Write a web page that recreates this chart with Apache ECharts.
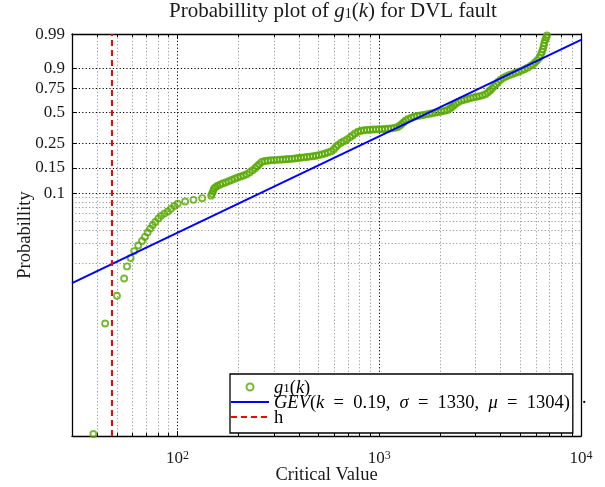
<!DOCTYPE html>
<html><head><meta charset="utf-8">
<script src="https://cdn.jsdelivr.net/npm/echarts@6/dist/echarts.min.js"></script>
<style>html,body{margin:0;padding:0;background:#fff}#c{width:605px;height:487px}</style>
</head><body><div id="c"></div>
<script>
// ---- data ----
const critValues = [38.3,43.8,50.1,54.4,56.2,58.6,61.0,63.9,66.7,69.0,71.1,73.3,75.3,77.6,80.4,82.9,86.1,89.4,92.9,96.5,100.2,109.1,120.0,132.6,146.9,
148.3,150.0,151.7,154.4,158.0,162.6,167.3,173.1,179.2,185.4,191.9,198.6,205.6,212.7,220.2,227.9,235.8,242.7,248.3,254.1,
261.4,270.6,280.0,289.8,300.0,310.4,321.3,332.5,344.2,356.2,368.6,381.5,394.9,408.7,423.0,437.7,453.0,468.9,485.3,502.2,519.8,538.0,556.8,576.2,
596.4,610.2,624.4,646.2,668.8,692.1,716.3,737.1,758.5,785.1,812.5,
840.9,870.3,900.7,932.2,964.8,998.9,1034,1070,1107,1146,1186,1228,1263,1293,1322,1353,1392,1441,1491,1544,1598,1653,1711,1771,1833,1897,1963,2032,2103,2177,2240,2292,2345,2399,2469,2555,2644,2737,2833,2931,3034,3140,3250,3363,3461,3541,3623,3707,3793,3881,3994,4133,4278,4427,4582,4742,4908,5079,5257,5440,5631,5794,5928,6066,6207,6314,6402,6475,6535,6580,6648,6725,6786];
const probabilities = [0.0520,0.0538,0.0556,0.0575,0.0594,0.0611,0.0628,0.0644,0.0659,0.0674,0.0692,0.0710,0.0728,0.0745,0.0766,0.0784,0.0800,0.0816,0.0838,0.0862,0.0884,0.0905,0.0923,0.0942,0.0971,
0.0997,0.1030,0.1067,0.1090,0.1113,0.1131,0.1152,0.1169,0.1192,0.1215,0.1242,0.1266,0.1287,0.1310,0.1339,0.1382,0.1437,0.1492,0.1547,0.1610,
0.1684,0.1716,0.1727,0.1742,0.1749,0.1757,0.1764,0.1772,0.1779,0.1787,0.1794,0.1809,0.1824,0.1835,0.1850,0.1865,0.1880,0.1895,0.1914,0.1940,0.1970,0.2005,0.2048,0.2100,
0.2200,0.2324,0.2431,0.2545,0.2642,0.2756,0.2884,0.3017,0.3162,0.3285,0.3359,
0.3400,0.3424,0.3440,0.3456,0.3464,0.3472,0.3480,0.3496,0.3521,0.3545,0.3585,0.3642,0.3765,0.3923,0.4082,0.4236,0.4378,0.4493,0.4588,0.4664,0.4714,0.4764,0.4825,0.4885,0.4945,0.5005,0.5066,0.5126,0.5187,0.5271,0.5428,0.5584,0.5763,0.5953,0.6132,0.6268,0.6362,0.6446,0.6530,0.6603,0.6676,0.6739,0.6819,0.6939,0.7120,0.7306,0.7494,0.7692,0.7882,0.8071,0.8253,0.8406,0.8520,0.8598,0.8676,0.8748,0.8813,0.8883,0.8965,0.9047,0.9136,0.9216,0.9296,0.9375,0.9463,0.9557,0.9638,0.9704,0.9763,0.9808,0.9846,0.9873,0.9893];
const fitLineX = [30, 10000];
const fitLineP = [0.0569, 0.9848];
const thresholdH = 47;
const yTickProbs = [0.99, 0.9, 0.75, 0.5, 0.25, 0.15, 0.1];
const yMinorProbs = [0.095, 0.09, 0.085, 0.08, 0.075, 0.07, 0.065, 0.06];
const xTickValues = [100, 1000, 10000];
const xMinorValues = [40,50,60,70,80,90,200,300,400,500,600,700,800,900,2000,3000,4000,5000,6000,7000,8000,9000];
const GEV_K = 0.19, GEV_SIGMA = 1330, GEV_MU = 1304;
const X_MIN = 30, X_MAX = 10000;

// probability scale of the plot: log of the fitted GEV quantile
function probToAxis(p) {
  const q = GEV_MU + (GEV_SIGMA / GEV_K) * (Math.pow(-Math.log(p), -GEV_K) - 1);
  return Math.log10(q);
}
const Y_MIN = 0, Y_MAX = 4.05;

const GREEN = '#56a800', BLUE = '#0000ff', RED = '#ff0000';
const FONT = 'Liberation Serif';
const TXT = '#1a1a1a';
const yTickAxis = yTickProbs.map(probToAxis);
const yMinorAxis = yMinorProbs.map(probToAxis);
const scatterData = critValues.map((x, i) => [x, probToAxis(probabilities[i])]);
const fitData = fitLineX.map((x, i) => [x, probToAxis(fitLineP[i])]);

const dotted = [1.2, 2.2];
const EN = '\u2002';
const NO_MARK = {color: 'rgba(0,0,0,0)', borderColor: 'rgba(0,0,0,0)', borderWidth: 0, opacity: 0};
const chart = echarts.init(document.getElementById('c'));
const legendRich = {
  n: {fontFamily: FONT, fontSize: 18.5, lineHeight: 16, verticalAlign: 'top', color: '#000'},
  i: {fontFamily: FONT, fontSize: 18.5, lineHeight: 16, verticalAlign: 'top', fontStyle: 'italic', color: '#000'},
  s: {fontFamily: FONT, fontSize: 13, lineHeight: 10, padding: [7, 0, 0, 0], verticalAlign: 'bottom', color: '#000'}
};
chart.setOption({
  animation: false,
  backgroundColor: '#fff',
  title: {
    text: '{n|Probabillity plot of }{i|g}{s|1}{n|(}{i|k}{n|) for DVL fault}',
    left: 333, top: 1, textAlign: 'center', padding: 0,
    textStyle: {fontWeight: 'normal', rich: {
      n: {fontFamily: FONT, fontSize: 21, fontWeight: 'normal', lineHeight: 20, verticalAlign: 'top', color: TXT},
      i: {fontFamily: FONT, fontSize: 21, fontWeight: 'normal', lineHeight: 20, verticalAlign: 'top', fontStyle: 'italic', color: TXT},
      s: {fontFamily: FONT, fontSize: 14, fontWeight: 'normal', lineHeight: 12, padding: [9, 0, 0, 0], verticalAlign: 'bottom', color: TXT}
    }}
  },
  grid: {left: 72, right: 24, top: 34, bottom: 51, outerBoundsMode: 'none'},
  legend: {
    orient: 'vertical', left: 230, top: 374,
    itemWidth: 38, itemHeight: 7, itemGap: -4,
    padding: [1, 3, 5, 0],
    backgroundColor: '#fff', borderColor: '#000', borderWidth: 1.3,
    data: [
      {name: 'g1(k)', icon: 'circle', itemStyle: {color: 'rgba(0,0,0,0)', borderColor: GREEN, borderWidth: 2}},
      {name: 'GEV(k = 0.19, σ = 1330, μ = 1304)', itemStyle: NO_MARK},
      {name: 'h', itemStyle: NO_MARK}
    ],
    formatter: function (name) {
      if (name === 'g1(k)') return '{i|g}{s|1}{n|(}{i|k}{n|)}';
      if (name === 'h') return '{n|h}';
      return '{i|GEV}{n|(}{i|k}{n|' + EN + '=' + EN + '0.19,' + EN + '}{i|σ}{n|' + EN + '=' + EN + '1330,' + EN + '}{i|μ}{n|' + EN + '=' + EN + '1304)}';
    },
    textStyle: {rich: legendRich}
  },
  graphic: [{type: 'text', left: 582, top: 389, style: {text: '.', font: '18px "Liberation Serif"', fill: '#000'}}],
  xAxis: [
    {type: 'log', logBase: 10, min: X_MIN, max: X_MAX, position: 'bottom',
     name: 'Critical Value', nameLocation: 'middle', nameGap: 30, nameMoveOverlap: false,
     nameTextStyle: {fontFamily: FONT, fontSize: 18.5, color: TXT},
     axisLine: {show: true, onZero: false, lineStyle: {color: '#000', width: 1.3}},
     axisTick: {show: true, inside: true, length: 5, customValues: xTickValues, lineStyle: {color: '#000'}},
     axisLabel: {customValues: xTickValues, margin: 14,
       formatter: v => '{b|10}{p|' + Math.round(Math.log10(v)) + '}',
       rich: {b: {fontFamily: FONT, fontSize: 17, lineHeight: 17, padding: [6, 0, 0, 0], verticalAlign: 'bottom', color: TXT},
              p: {fontFamily: FONT, fontSize: 12, lineHeight: 12, verticalAlign: 'top', color: TXT}}},
     splitLine: {show: true, lineStyle: {color: '#000', width: 1, type: dotted}}},
    {type: 'log', logBase: 10, min: X_MIN, max: X_MAX, position: 'bottom',
     axisLine: {show: false, onZero: false},
     axisTick: {show: true, inside: true, length: 3, customValues: xMinorValues, lineStyle: {color: '#000'}},
     axisLabel: {show: false},
     splitLine: {show: true, lineStyle: {color: '#9a9a9a', width: 1, type: dotted}}},
    {type: 'log', logBase: 10, min: X_MIN, max: X_MAX, position: 'top',
     axisLine: {show: true, onZero: false, lineStyle: {color: '#000', width: 1.3}},
     axisTick: {show: true, inside: true, length: 5, customValues: xTickValues, lineStyle: {color: '#000'}},
     axisLabel: {show: false}, splitLine: {show: false}},
    {type: 'log', logBase: 10, min: X_MIN, max: X_MAX, position: 'top',
     axisLine: {show: false, onZero: false},
     axisTick: {show: true, inside: true, length: 3, customValues: xMinorValues, lineStyle: {color: '#000'}},
     axisLabel: {show: false}, splitLine: {show: false}}
  ],
  yAxis: [
    {type: 'value', min: Y_MIN, max: Y_MAX, position: 'left',
     name: 'Probabillity', nameLocation: 'middle', nameGap: 37, nameRotate: 90, nameMoveOverlap: false,
     nameTextStyle: {fontFamily: FONT, fontSize: 18.5, color: TXT},
     axisLine: {show: true, onZero: false, lineStyle: {color: '#000', width: 1.3}},
     axisTick: {show: true, inside: true, length: 5, customValues: yTickAxis, lineStyle: {color: '#000'}},
     axisLabel: {customValues: yTickAxis, margin: 7, fontFamily: FONT, fontSize: 17, color: TXT,
       formatter: v => { const i = yTickAxis.findIndex(t => Math.abs(t - v) < 1e-6); return i >= 0 ? String(yTickProbs[i]) : ''; }},
     splitLine: {show: true, lineStyle: {color: '#000', width: 1, type: dotted}}},
    {type: 'value', min: Y_MIN, max: Y_MAX, position: 'left',
     axisLine: {show: false, onZero: false},
     axisTick: {show: false, customValues: yMinorAxis},
     axisLabel: {show: false},
     splitLine: {show: true, lineStyle: {color: '#9a9a9a', width: 1, type: dotted}}},
    {type: 'value', min: Y_MIN, max: Y_MAX, position: 'right',
     axisLine: {show: true, onZero: false, lineStyle: {color: '#000', width: 1.3}},
     axisTick: {show: true, inside: true, length: 5, customValues: yTickAxis, lineStyle: {color: '#000'}},
     axisLabel: {show: false}, splitLine: {show: false}}
  ],
  series: [
    {name: 'g1(k)', type: 'scatter', xAxisIndex: 0, yAxisIndex: 0, data: scatterData,
     symbol: 'circle', symbolSize: 6,
     itemStyle: {color: 'rgba(0,0,0,0)', borderColor: GREEN, borderWidth: 1.9}, z: 3},
    {name: 'GEV(k = 0.19, σ = 1330, μ = 1304)', type: 'line', xAxisIndex: 0, yAxisIndex: 0, data: fitData,
     symbol: 'none', lineStyle: {color: BLUE, width: 2}, itemStyle: {color: BLUE}, z: 4},
    {name: 'h', type: 'line', xAxisIndex: 0, yAxisIndex: 0, data: [],
     symbol: 'none', lineStyle: {color: RED, width: 2, type: [6, 4]}, itemStyle: {color: RED}, z: 5,
     markLine: {silent: true, symbol: ['none', 'none'], label: {show: false},
       lineStyle: {color: RED, width: 2, type: [6, 4]}, data: [{xAxis: thresholdH}]}}
  ]
});
</script></body></html>
